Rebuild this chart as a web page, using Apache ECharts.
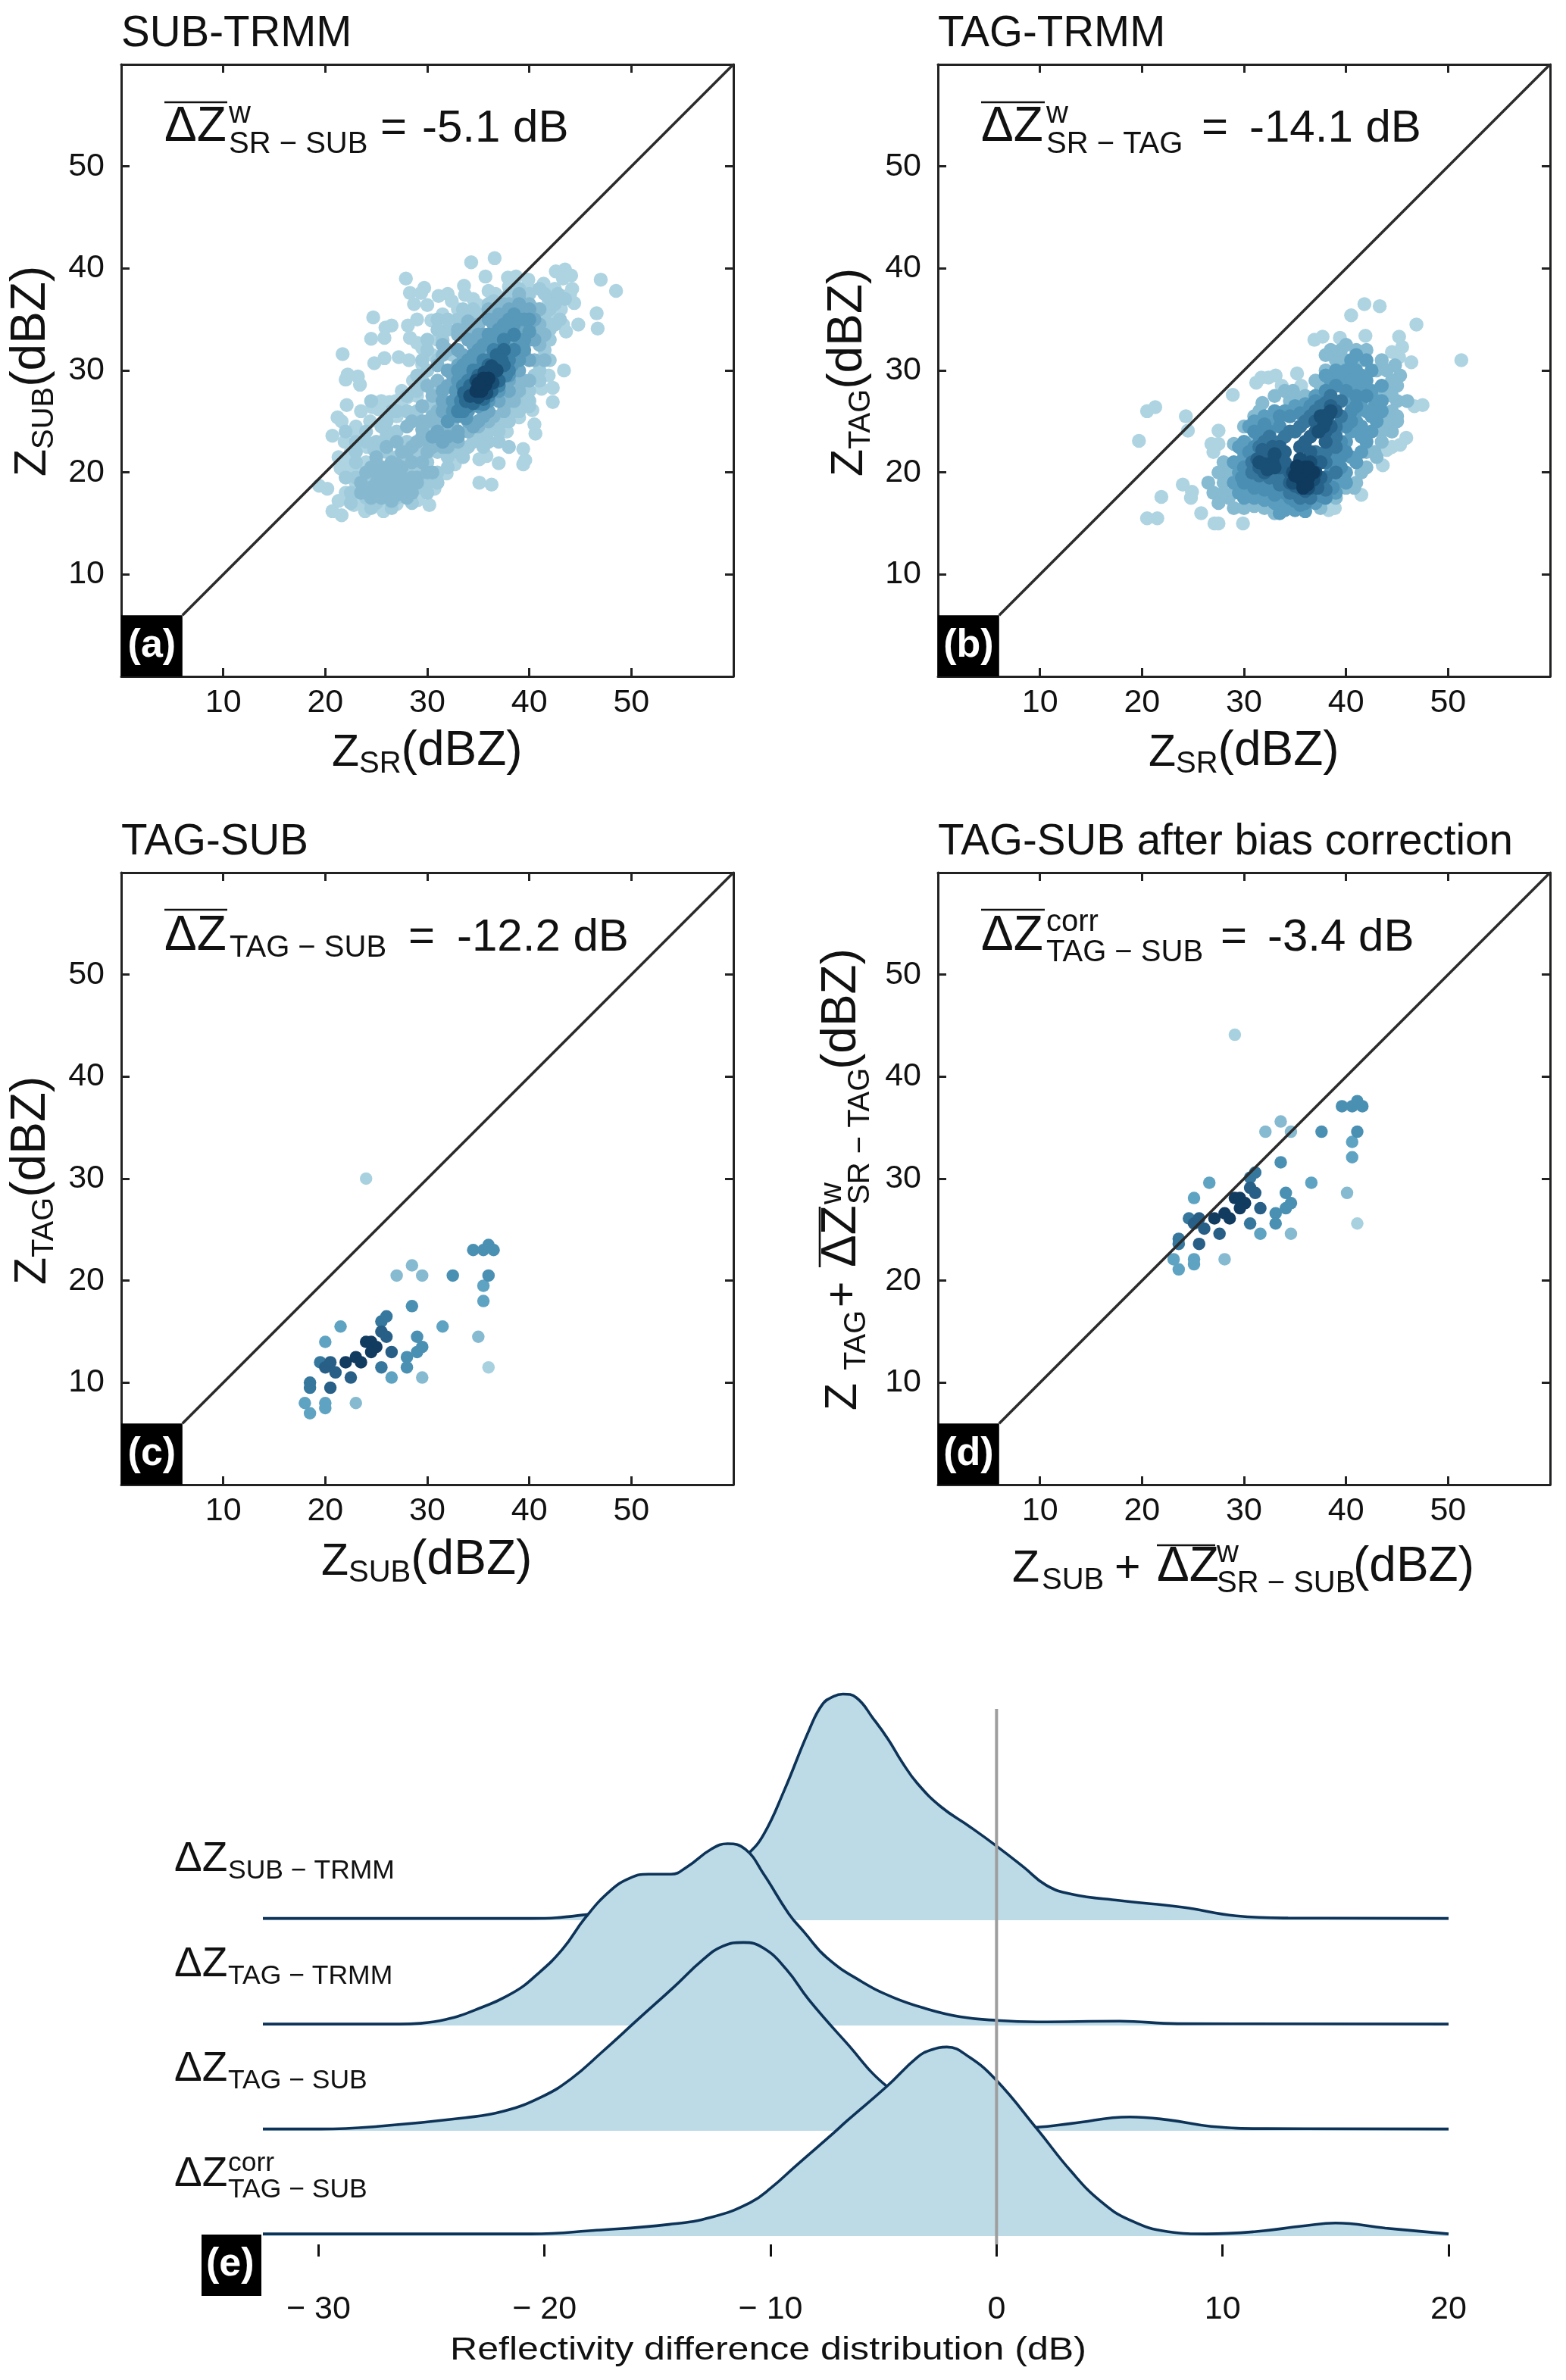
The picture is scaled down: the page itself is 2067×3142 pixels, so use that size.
<!DOCTYPE html>
<html><head><meta charset="utf-8">
<style>html,body{margin:0;padding:0;background:#fff}#c{width:2067px;height:3142px}</style>
<script src="https://cdn.jsdelivr.net/npm/echarts@6/dist/echarts.min.js"></script>
</head><body><div id="c"></div>
<script>
// ---------- data: tick labels ----------
const panelTicks = [10,20,30,40,50];
const ridgeTicks = [-30,-20,-10,0,10,20];
const titles = ['SUB-TRMM','TAG-TRMM','TAG-SUB','TAG-SUB after bias correction'];
const tags = ['(a)','(b)','(c)','(d)'];
// ---------- panel (a): points grouped by density level, light to dark ----------
const subA0 = [[27.9,39],[29.7,38.1],[28.3,37.6],[29.4,37.6],[28.7,36.5],[30,36.4],[34.3,40.6],[36.6,41],[35.7,39.2],[33.6,38.3],[33.7,37.4],[31.1,37.3],[32,37.5],[32.4,36.8],[35,36.4],[24.7,35.2],[25.9,34.2],[26.5,34.4],[24.5,33.1],[25.8,33.2],[28.1,34.4],[30.4,34.9],[28.3,33.2],[29,32.7],[29.5,32.2],[21.7,31.6],[24.8,30.7],[25.8,31.2],[27.2,31.3],[28.2,31],[29.5,30.6],[22.2,29.6],[22,29.1],[23.2,29.4],[23.4,28.6],[28.6,29],[22.1,26.6],[24.6,26.4],[25.2,26.2],[26.3,26.9],[26.9,27],[28.1,27.4],[21.2,25.4],[21.6,25],[23,24.5],[24.4,25],[20.7,23.6],[21.9,23],[23.4,23.5],[24.1,22.5],[21.3,21.5],[22.4,21.1],[21.5,20.4],[23,20.5],[22.4,19.9],[19.4,18.7],[20.2,18.4],[21.3,17.2],[20.7,16.2],[21.6,15.8],[23.2,17.3],[23.9,16.2],[25.7,16.2],[27,16.9],[29.1,17.3],[30.2,16.8],[30.7,18.4],[31.9,19.9],[32.7,20.8],[35.1,19],[36.3,18.8],[35.1,21.3],[35.8,21.6],[37,20.9],[39.4,20.8],[39.6,21.2],[39.4,22.3],[37.8,24],[38.3,25.6],[39,25.4],[40.6,23.8],[40.5,24.7],[40.3,26.1],[42.3,26.9],[42.3,28.3],[43.4,30],[41.9,29.5],[41.2,28.2],[43.6,33.8],[43.3,34.5],[44.8,34.5],[44.4,36.6],[47,38.9],[48.5,37.8],[46.6,35.6],[46.7,34.1],[44.2,38],[43.5,39.9],[42.6,39.7],[44.1,39.3],[43.3,39],[41.4,38.5],[39.9,38.9],[37.9,39.1],[38.7,39.2],[36.7,37.5],[43.1,37.3],[41.9,36.8],[43.1,36],[42.2,35.4],[41.9,34.1],[41.4,32.8],[22.8,24],[25.5,27],[27.5,28],[27,25.5],[27.5,26.5],[29,27.5],[26,17.5],[22,18],[23,19],[22.8,16.8],[31.5,35.5],[33,36],[34.5,37],[36,37.8],[38,38.2],[40,38],[42.5,38],[44,37.5],[29,35],[31,33],[30.5,31.5],[23.5,26],[24,21],[22.5,22]];
const subA1 = [[22,24],[23,22],[24,24],[25,23],[26,25],[27,24],[28,26],[29,26],[25,21],[26,22],[27,21.5],[28,23],[29,22],[30,24],[30,21],[31,22],[29,20],[23,19.5],[24,19.5],[22.5,18],[24,17.5],[25,17],[26,18],[27,17.5],[28,18],[29,18.5],[30,19],[31,20],[28,20],[30,33],[31,35],[31.5,33],[32,34],[33,35],[34,35.5],[35,35.5],[32.5,31.5],[31,31],[30,30],[30.5,28],[29,28],[30,26.5],[31,27],[41,36],[41.5,35],[42,34],[41.5,32],[41,31],[40.5,29.5],[40,28],[39,27],[38.5,26],[37.5,25],[36.5,24.5],[36,23],[35,23.5],[34,22.5],[33,22],[32,21.5],[41,38],[40,37.5],[38,37.5],[42,37],[43,35],[37,36.5],[24.8,22.2],[26,23.5],[25.5,19.5],[29.5,29],[33,33.5],[42.8,37.5],[43.5,37],[42,36],[37,23],[38,22.5],[35.5,22.5],[40,27],[41,29],[42,31],[23,21],[24,23],[26,24],[27,26],[28,27.5],[28,21.5],[31,23],[25.5,24.5],[26.5,26],[29,29.5],[29.5,31],[30,32],[31,34],[32,35],[33.5,36],[34.5,36],[36,36.5],[42,33],[42.5,34.5],[42.5,36.5],[41,30],[40,26.5],[39,26],[38,25],[37,24],[36,24],[34.5,23],[33.5,21.5],[32,20.5],[31,19],[30,18],[28.5,17],[26.5,16.5],[24.5,16.5],[22.5,17],[22,19.5],[23,23],[24.5,27],[41.5,37.5],[39,38],[36.5,36.8]];
const subA2 = [[23.5,19],[24.5,18.5],[25,20],[25.5,18],[26,19.5],[26.5,21],[27,19],[27.5,20.5],[28,19],[28.5,21],[29,19.5],[27,23],[28,24.5],[30,23],[29.5,25],[31,24.5],[32,22.5],[33,23],[32,24],[31,26],[31,29],[32,30],[32,32],[33,33.5],[34,34],[35,34.5],[36,35.5],[37,36],[38,36.5],[39,37],[40,36.5],[41,36],[40.5,34],[41,32.5],[40.5,31],[39.5,29],[39,28],[38,27],[37.5,26],[36,25],[35,24.5],[34,24],[25,19],[26.5,19],[27.5,18.5],[26,20.5],[30.5,25.5],[30.5,22.5],[41,34.5],[24,20],[25,21.5],[26,22.5],[27.5,22],[28.5,22.5],[29.5,21],[30,22],[30.5,20],[29.5,23.5],[28.5,25],[29.5,26.5],[30.5,27.5],[30,28.5],[31,30.5],[31.5,31.5],[31.5,32.5],[34,34.8],[33,34],[36,36],[37.5,36.5],[39,37.5],[40.5,36],[41.5,33.5],[41.5,31],[40,29],[39,29],[38.5,27],[37.5,27],[36.5,25.5],[35,25],[33,24],[31.5,22.5],[32.5,24.5],[24.5,20.5],[27,17.8],[25.5,17.5],[26.5,17.2],[28,17.5],[29,19],[24,18],[23.5,18],[30,20],[24.5,17.5],[25.5,19],[26.5,18],[27.5,19.5],[28.5,18],[28.5,19.5],[26.5,20],[25.5,20.5],[27,20.8],[28,22],[29,23],[30,25],[29.5,24.2],[31,25.3]];
const subA3 = [[31,24],[32,23.5],[33,24],[34,25],[35,25],[36,26],[37,27],[38,28],[39,30],[40,31],[40.5,33],[40.5,35],[40,36],[39,36.5],[38,36],[37,35.5],[36,35],[35,33.5],[34,33],[33,32],[32,30],[31.5,28],[31.5,26],[33,28],[34,30],[36,32],[38,33],[39,34],[37,30],[35,27],[30.5,23.5],[31.5,23],[33,23.5],[34.5,24.5],[35.5,25.5],[32,26],[33,26.5],[31.5,27],[32,28.5],[32.5,29.5],[33,30.5],[33.5,31.5],[34.5,32.5],[35.5,33.5],[36.5,34.5],[37.5,35],[38.5,35.5],[39.5,35.5],[40,34.5],[40,33],[39.5,31.5],[38.5,30],[38,29],[37,28],[36,27],[36.5,29],[35,28],[34,28],[37.5,31.5],[38.5,32.5],[36,31],[35,30.5],[34,29.5],[33,27.5]];
const subA4 = [[32,25],[33,25.5],[34,26],[35,26.5],[36,27],[37,28],[38,29.5],[39,31],[39.5,33],[39.5,35],[38.5,35.5],[37.5,34.5],[36.5,33.5],[35.5,32.5],[34.5,31.5],[33.5,30.5],[33,29],[32.5,27],[38,32],[37,31],[35,29],[32.5,26],[33.8,25.3],[34,29.5],[35,31],[36,32.5],[37,33],[38,34],[39,33],[38.8,31.5],[38.3,30.5],[38,35],[39,35],[40,35],[40,33.8],[39.5,32],[38.5,34.5],[37,34],[36,33.5],[35,32],[34,31],[33,30],[32.8,28]];
const subA5 = [[33,26],[34,26.5],[35,26.8],[36,27.5],[37,28.5],[38,30],[38.5,32],[38.5,33.5],[37.5,33],[36.5,32],[35.5,31],[34.5,30],[33.5,28.5],[37,30],[33.3,27],[33.5,26],[35.5,26.7],[37.7,29.5],[38,31],[37.2,32],[36,31],[35,30],[34,29]];
const subA6 = [[33.8,27],[34.5,26.8],[35.5,27.2],[36.3,28],[37,29],[37.5,30.5],[37.5,32],[36.8,31.5],[36,30.5],[35,29.5],[34.2,28.5],[33.6,27.8],[37.3,31]];
const subA7 = [[34.2,27.5],[35,27.4],[35.8,27.8],[36.4,28.8],[36.8,30],[36.3,30.4],[35.6,29.8],[34.8,29]];
const subA8 = [[34.8,28],[35.3,28],[35.7,28.6],[36,29.2],[35.5,29.2],[35,28.7]];
// ---------- panel (b) ----------
const tagB0 = [[19.7,23.1],[20.5,26],[21.3,26.4],[24.3,25.5],[24.5,24.1],[28.9,27.6],[21.9,17.6],[20.5,15.5],[21.5,15.5],[24,18.8],[24.9,18.1],[24.8,17.5],[25.8,16],[27.1,15],[27.5,15],[29.9,15],[31.2,28.8],[31.7,29.3],[32.4,29.3],[33.1,29.5],[33.7,28.5],[35.2,29.7],[35.6,28.5],[36.9,33],[37.7,33.3],[39.4,33.2],[40.5,35.4],[41.8,36.5],[43.3,36.3],[46.9,34.5],[45.2,33.3],[41.9,33.4],[45.5,32.3],[44.5,31.8],[45.2,31.3],[46.4,30.8],[51.3,31],[46.7,26.5],[47.5,26.6],[45.9,23.4],[45.3,22.7],[44.5,22.5],[44,22.2],[43.6,20.7],[41.5,17.8],[38.9,16.5],[38.3,16.3],[27.5,24.1],[26.8,22.8],[27.5,22.8],[27,22]];
const tagB1 = [[26.5,19],[27,18],[27.5,17],[28,21],[28.5,20],[28.5,17.5],[29,16.5],[30,16.5],[31,16.7],[31.5,24.5],[31,25.5],[31.5,26],[31.8,26.8],[32,24],[34.5,27],[35,27],[35.5,26.5],[37.5,28.5],[38,30],[39,31],[39.5,32],[38.5,32],[40,31],[41,32],[42,32],[41.5,31],[43,28],[44,28],[45,28.5],[45.3,29.5],[45,27],[44.5,26],[45,25.5],[45,25],[44.5,24],[43.5,24],[42.8,22],[43,21.5],[42,20.5],[41.5,20],[41,19],[40,18.5],[44.5,29],[44.8,30.5],[39.5,30.5],[29,22.8],[30.5,22.8],[28,19],[27.5,20],[28,18],[30,24.5],[33,27.5],[34,28],[34.8,28],[36,27.5],[37,29],[38,31.5],[40,32.5],[43.5,31],[43,30],[44,30],[44.5,27.5],[46,27],[44,25],[43.5,23],[42,22],[40.8,18.5],[39,17.5],[37.5,16.5],[33,16],[32,16.5],[29,18]];
const tagB2 = [[41,30],[42,29],[42.5,28],[43,27],[43.5,26],[43,25],[42.5,24],[41.5,23.5],[41,25],[42,26],[41.5,27],[42,31],[41,31.5],[40,30],[39.5,29.5],[39,30],[38.5,29],[39,24],[40,23],[40,20],[39,19],[38,18],[37,17],[36,16.2],[35,16.3],[34,17],[33.5,16],[33,17],[32,18],[31,18],[30,17.5],[29.5,18],[29,19],[29,21],[29.5,22.5],[30,23],[30.5,24.5],[32,25.5],[33,24.8],[34,26],[35,26.5],[36,26.3],[43.5,28.5],[42.5,30],[41,28.5],[41.5,24.5],[40.5,21.5],[30,18.5],[31,17.5],[32,17.3],[34,16.3],[36,16.8],[37.5,17.5],[39,18],[40,19],[41,21],[41.5,22],[42,23],[40.5,24],[43,26],[43.5,27],[42.8,26.5],[41,26],[40.5,29],[39.5,28.5],[38,29.5],[37,27.5],[36,26.7],[33,26],[31,25],[30,22],[29.5,20],[30,21.5],[40.5,31],[42,28],[41.5,29.5],[42.5,25.5],[40.5,27]];
const tagB3 = [[30,19],[31,19.5],[30,20.5],[30.5,22],[31.5,23.5],[32.5,24],[33.5,24.5],[34.5,25.5],[36,25],[37,27],[38,28],[39,28.5],[40,28],[41,27.5],[40.5,26],[40,24.5],[39.5,23],[39,21],[38.5,20],[38,17.5],[37,18],[36,17],[35,17.2],[34,18],[33,18.5],[32,19],[41,26.5],[42,27.5],[31,24],[31,22.5],[32,24.7],[33.5,25.5],[35.5,25.8],[36.5,26.5],[38,27],[39,26.8],[40.5,25],[40,22],[39.5,20.5],[38.7,18.5],[37.5,17.7],[35.5,16.8],[34.5,17.5],[33,17.8],[32,18.3],[31,18.5],[30.5,20],[29.8,19.5],[39.5,21.5],[38.5,22],[38.2,25]];
const tagB4 = [[31,20],[30.8,21],[31.5,22.5],[32.5,23.5],[33.5,23],[34.5,24],[35.5,24.5],[36.5,25.5],[37.5,26.5],[38.5,27.5],[39.5,27],[39.5,25.5],[39,23.5],[38,21],[38,19.5],[37,18.5],[36,17.8],[35,18],[34,19],[33,19.5],[32,20],[32,22],[32,23],[33,22.5],[34,23.5],[35,24],[36,25],[37,26],[38,26.8],[37,22],[38,22],[39,22.5],[39,24.5],[39,20],[38,18.3],[36.5,17.5],[35.5,17.5],[34.5,18],[33.5,18.8],[32.5,19.5],[31.5,19.7],[30.8,20],[34,20],[33,20.5],[35,20.5],[37,20.5]];
const tagB5 = [[31.5,20.5],[32,21.5],[32.8,22.5],[33.5,21.5],[34,22],[35.5,22.5],[36.5,23.5],[37.5,25],[38.5,26.5],[39,26],[38.5,24.5],[38,23],[37.5,21],[37.5,19.5],[36.5,18.5],[35.5,18.5],[34.5,19],[33.5,20.5],[37,24],[36.5,22],[32,20],[33,20.8],[34,21],[34.5,20],[35,18.7],[37,19.5],[37,21],[36,23],[37,25],[38,24],[33.5,22.5],[31.3,21.3],[31.8,22.2],[36,18.2],[37.2,18.5]];
const tagB6 = [[32,20.8],[32.8,21],[33,21.8],[37.8,24.5],[38.3,25.7],[37.8,25.5],[35,19.5],[36.8,19.3],[36,18.8],[35.3,20.5],[36.5,21],[35.5,21.3],[31.5,21],[32.3,20.3],[33,20.5],[34.8,19],[36.3,18.5],[37,20],[34.8,20],[38,25],[38.5,26],[37.3,24],[37.5,25.5]];
const tagB7 = [[35.5,19.5],[36.3,19.5],[36,20.5],[35.8,19],[35,19.7],[36.8,20],[36.3,20.5],[35.8,18.5],[35.2,20.6],[36.2,18.8]];
// ---------- panel (c) ----------
const tagSubC0 = [[24,30],[36,11.5]];
const tagSubC1 = [[35,14.5],[29.5,10.5],[27,20.5],[29.5,20.5],[28.5,21.5],[23,8]];
const tagSubC2 = [[21.5,15.5],[20,14],[18,8],[20,8],[20,7.5],[18.5,7],[31.5,15.5],[35.5,18],[35.5,19.5],[26.5,10.5]];
const tagSubC3 = [[34.5,23],[35.5,23],[36,23.5],[36.5,23],[36,20.5],[32.5,20.5],[28.5,17.5],[28,12.5],[28,11.5],[29,13],[29.5,13.5],[29,14.5]];
const tagSubC4 = [[19.5,12],[25.5,11.5],[18.5,10],[18.5,9.5],[25.5,16],[26,16.5]];
const tagSubC5 = [[20,11.5],[20.5,12],[22.5,10.5],[21,11],[20.5,9.5],[26.5,13],[25.5,15],[26,14.5]];
const tagSubC6 = [[22,12],[23,12.5],[23.5,12],[24,14],[24.5,14],[25,13.5],[24.5,13]];
// ---------- panel (d) ----------
const corrD0 = [[29.1,44.1],[41.1,25.6]];
const corrD1 = [[40.1,28.6],[34.6,24.6],[32.1,34.6],[34.6,34.6],[33.6,35.6],[28.1,22.1]];
const corrD2 = [[26.6,29.6],[25.1,28.1],[23.1,22.1],[25.1,22.1],[25.1,21.6],[23.6,21.1],[36.6,29.6],[40.6,32.1],[40.6,33.6],[31.6,24.6]];
const corrD3 = [[39.6,37.1],[40.6,37.1],[41.1,37.6],[41.6,37.1],[41.1,34.6],[37.6,34.6],[33.6,31.6],[33.1,26.6],[33.1,25.6],[34.1,27.1],[34.6,27.6],[34.1,28.6]];
const corrD4 = [[24.6,26.1],[30.6,25.6],[23.6,24.1],[23.6,23.6],[30.6,30.1],[31.1,30.6]];
const corrD5 = [[25.1,25.6],[25.6,26.1],[27.6,24.6],[26.1,25.1],[25.6,23.6],[31.6,27.1],[30.6,29.1],[31.1,28.6]];
const corrD6 = [[27.1,26.1],[28.1,26.6],[28.6,26.1],[29.1,28.1],[29.6,28.1],[30.1,27.6],[29.6,27.1]];
// ---------- panel (e): density curves, [dB, height] ----------
const ridgeSubTrmm = [[-32.46,2.5],[-25,2.5],[-20.6,2.5],[-18.2,7.6],[-16,19],[-14,32],[-12.5,51],[-11,91],[-10.3,118],[-9.4,178],[-8.3,261],[-7.7,297],[-7.2,308],[-6.8,311],[-6.2,306],[-5.45,277],[-4.8,249],[-4.17,217],[-3.5,188],[-2.46,156],[-1.2,129],[0,102],[1.2,73],[2.2,48],[3.3,36],[5.45,27],[8.2,18],[10.6,6],[12.9,3],[20,2.5]];
const ridgeTagTrmm = [[-32.46,2],[-26.4,2],[-25.5,3],[-24.4,8],[-23.1,21],[-21.4,45],[-20.3,71],[-19.2,105],[-18.2,148],[-17.1,185],[-16.2,203],[-15.4,208],[-14.4,208],[-13.7,218],[-12.6,243],[-11.9,250],[-11.1,242],[-10.3,208],[-9.2,154],[-8.5,128],[-7.5,93],[-6,61],[-4.6,39],[-3.1,23],[-1.6,12],[0,7],[1.8,5],[5.45,6],[8,2.5],[20,2]];
const ridgeTagSub = [[-32.46,2.5],[-29.9,2.5],[-27.4,6],[-23.5,18],[-21.8,27],[-20.1,47],[-18.8,72],[-17.5,107],[-15.8,155],[-14.3,197],[-13,235],[-12.1,254],[-11.2,259],[-10.3,251],[-9.3,222],[-8.3,180],[-6.7,123],[-4.85,61],[-3,27],[-1,8],[0,4],[1.8,5],[3.3,10],[5.9,19],[7.6,15],[9.5,6],[11.9,3],[20,2.5]];
const ridgeCorr = [[-32.46,3],[-20.6,3],[-17.7,8],[-14.5,16],[-12.6,26],[-10.9,46],[-9.95,67],[-8.9,96],[-7.2,142],[-6.6,159],[-4.85,206],[-3.5,246],[-2.9,256],[-2.2,260],[-1.2,246],[0,214],[1.8,147],[3.3,89],[4.6,48],[5.9,22],[7.6,6],[9.3,3],[11.4,6],[13.6,14],[15,18],[17.2,11],[20,3]];
const zeroLine = [[0,0],[0,1]];
const diagonal = [[6,6],[60,60]];
</script>
<script>
const FF = '"Liberation Sans", Arial, sans-serif';
const P = ['#aed4e2','#9ecadb','#86b9d0','#6fa8c4','#5899ba','#3f83a8','#2a6a90','#1a4f75','#0f3a5e'];
const PC = ['#a8d1e0','#86bad1','#5fa3c3','#4a90b3','#36779d','#275f87','#123b60'];
const INK = '#111';
const mctx = document.createElement('canvas').getContext('2d');
const widthOf = (t,s)=>{mctx.font = s+'px "Liberation Sans"';return mctx.measureText(t).width;};
function textEl(x,base,t,s,o){o=o||{};
  return {type:'text',x:x,y:base-0.3465*s,z:50,silent:true,
    style:{text:t,fontSize:s,fontFamily:FF,fill:o.fill||INK,fontWeight:o.w||'normal',textAlign:'left',textVerticalAlign:'middle',verticalAlign:'middle'}};
}
function lineEl(x1,y1,x2,y2){return {type:'line',z:50,silent:true,shape:{x1,y1,x2,y2},style:{stroke:INK,lineWidth:2.6}};}
// a run of text parts on one baseline, optionally rotated to read upward
function run(x,y,rot,parts,scaleX){
  let c=0;const ch=[];
  parts.forEach(p=>{
    const at = p.at!==undefined?p.at:c;
    ch.push(textEl(at,p.dy||0,p.t,p.s));
    if(p.over) ch.push(lineEl(p.over[0],p.over[2],p.over[1],p.over[2]));
    c = at+widthOf(p.t,p.s);
  });
  return {type:'group',x,y,rotation:rot?Math.PI/2:0,scaleX:scaleX||1,children:ch};
}
const UP=true;
const BIG=59, SUB=40, STAT=60, DZ=64, DBZ=64;
const graphics = [
  // axis names
  run(438,1015,false,[{t:'Z',s:BIG},{t:'SR',s:SUB,dy:8},{t:'(dBZ)',s:DBZ}]),
  run(1516,1015,false,[{t:'Z',s:BIG},{t:'SR',s:SUB,dy:8},{t:'(dBZ)',s:DBZ}]),
  run(424,2083,false,[{t:'Z',s:BIG},{t:'SUB',s:SUB,dy:8},{t:'(dBZ)',s:DBZ}]),
  run(64,629,UP,[{t:'Z',s:BIG},{t:'SUB',s:SUB,dy:9},{t:'(dBZ)',s:DBZ}]),
  run(1142,629,UP,[{t:'Z',s:BIG},{t:'TAG',s:SUB,dy:9},{t:'(dBZ)',s:DBZ}]),
  run(64,1696,UP,[{t:'Z',s:BIG},{t:'TAG',s:SUB,dy:9},{t:'(dBZ)',s:DBZ}]),
  run(1134,1862,UP,[{t:'Z',s:BIG},{t:'TAG',s:SUB,dy:11,at:53},{t:'+',s:BIG,at:136},
    {t:'ΔZ',s:DZ,at:189,over:[189,269,-52]},{t:'w',s:SUB,at:272,dy:-21},{t:'SR − TAG',s:SUB,at:272,dy:16},{t:'(dBZ)',s:DBZ,at:450}]),
  run(1336,2092,false,[{t:'Z',s:BIG},{t:'SUB',s:SUB,dy:9,at:39},{t:'+',s:BIG,at:135},
    {t:'ΔZ',s:DZ,at:191,over:[191,268,-52]},{t:'w',s:SUB,at:270,dy:-27},{t:'SR − SUB',s:SUB,at:270,dy:13},{t:'(dBZ)',s:DBZ,at:450}]),
  // statistics
  run(217,191,false,[{t:'ΔZ',s:DZ,over:[0,83,-56]},{t:'w',s:SUB,at:85,dy:-26},{t:'SR − SUB',s:SUB,at:85,dy:14},{t:'=',s:STAT,at:285},{t:'-5.1 dB',s:STAT,at:340}]),
  run(1295,191,false,[{t:'ΔZ',s:DZ,over:[0,84,-56]},{t:'w',s:SUB,at:86,dy:-26},{t:'SR − TAG',s:SUB,at:86,dy:14},{t:'=',s:STAT,at:291},{t:'-14.1 dB',s:STAT,at:354}]),
  run(217,1259,false,[{t:'ΔZ',s:DZ,over:[0,83,-58]},{t:'TAG − SUB',s:SUB,at:86,dy:7},{t:'=',s:STAT,at:322},{t:'-12.2 dB',s:STAT,at:386}]),
  run(1295,1259,false,[{t:'ΔZ',s:DZ,over:[0,84,-58]},{t:'corr',s:SUB,at:86,dy:-27},{t:'TAG − SUB',s:SUB,at:86,dy:13},{t:'=',s:STAT,at:316},{t:'-3.4 dB',s:STAT,at:378}]),
  // ridge labels
  run(230,2474,false,[{t:'ΔZ',s:55},{t:'SUB − TRMM',s:35.5,at:71,dy:9}]),
  run(230,2613,false,[{t:'ΔZ',s:55},{t:'TAG − TRMM',s:35.5,at:71,dy:9}]),
  run(230,2751,false,[{t:'ΔZ',s:55},{t:'TAG − SUB',s:35.5,at:71,dy:9}]),
  run(230,2890,false,[{t:'ΔZ',s:55},{t:'corr',s:35.5,at:71,dy:-21},{t:'TAG − SUB',s:35.5,at:71,dy:14}]),
  // ridge axis name
  run(594,3118,false,[{t:'Reflectivity difference distribution (dB)',s:43}],1.165),
  // tag for (e)
  {type:'rect',z:40,silent:true,shape:{x:266,y:2950,width:79,height:81},style:{fill:'#000'}},
  textEl(272,3008,'(e)',52,{fill:'#fff',w:'bold'})
];
const boxes = [[160,85],[1238,85],[160,1152],[1238,1152]];
const SIZE = 808;
const bandsA=[subA0,subA1,subA2,subA3,subA4,subA5,subA6,subA7,subA8];
const bandsB=[tagB0,tagB1,tagB2,tagB3,tagB4,tagB5,tagB6,tagB7];
const bandsC=[tagSubC0,tagSubC1,tagSubC2,tagSubC3,tagSubC4,tagSubC5,tagSubC6];
const bandsD=[corrD0,corrD1,corrD2,corrD3,corrD4,corrD5,corrD6];
const panelBands=[bandsA,bandsB,bandsC,bandsD];
const colB=['#aed4e2','#86bbd2','#5b9dbe','#4a8fb3','#37779e','#27628a','#1a4f75','#0f3a5e'];
const panelColors=[P,colB,PC,PC];
const grid=[],xAxis=[],yAxis=[],series=[],title=[];
const axisLine={show:true,onZero:false,lineStyle:{color:'#222',width:3}};
boxes.forEach((b,i)=>{
  grid.push({left:b[0],top:b[1],width:SIZE,height:SIZE,containLabel:false});
  const tick={show:true,inside:true,length:11,customValues:panelTicks,lineStyle:{color:'#222',width:3}};
  const labX={show:true,customValues:panelTicks,fontFamily:FF,fontSize:43,color:INK,margin:14};
  const labY={show:true,customValues:panelTicks,fontFamily:FF,fontSize:43,color:INK,margin:22,padding:[16,0,0,0]};
  xAxis.push({type:'value',gridIndex:i,min:0,max:60,position:'bottom',axisLine,axisTick:tick,axisLabel:labX,splitLine:{show:false}});
  xAxis.push({type:'value',gridIndex:i,min:0,max:60,position:'top',axisLine,axisTick:tick,axisLabel:{show:false},splitLine:{show:false}});
  yAxis.push({type:'value',gridIndex:i,min:0,max:60,position:'left',axisLine,axisTick:tick,axisLabel:labY,splitLine:{show:false}});
  yAxis.push({type:'value',gridIndex:i,min:0,max:60,position:'right',axisLine,axisTick:tick,axisLabel:{show:false},splitLine:{show:false}});
  title.push({text:titles[i],left:b[0],top:b[1]-68,textStyle:{fontFamily:FF,fontSize:56.5,fontWeight:'normal',color:INK},padding:0});
  const xi=i*2,yi=i*2;
  panelBands[i].forEach((band,j)=>{
    series.push({type:'scatter',xAxisIndex:xi,yAxisIndex:yi,data:band,symbolSize:i<2?18.5:16.5,silent:true,z:3+j*0.01,
      itemStyle:{color:panelColors[i][j],opacity:1}});
  });
  series.push({type:'line',xAxisIndex:xi,yAxisIndex:yi,data:diagonal,symbol:'none',silent:true,z:5,lineStyle:{color:'#2b2b2b',width:3.6}});
  series.push({type:'scatter',xAxisIndex:xi,yAxisIndex:yi,data:[],silent:true,z:6,
    markArea:{silent:true,itemStyle:{color:'#000',opacity:1},
      label:{show:true,position:'inside',color:'#fff',fontFamily:FF,fontSize:52,fontWeight:'bold'},
      data:[[{coord:[0,0],name:tags[i]},{coord:[6,6]}]]}});
});
// ridges: each in its own grid whose bottom sits on that ridge's baseline
const RL=347,RW=1565,XMIN=-32.46,XMAX=20;
[[ridgeSubTrmm,2535],[ridgeTagTrmm,2674],[ridgeTagSub,2813],[ridgeCorr,2952]].forEach((r,k)=>{
  const g=grid.length;
  grid.push({left:RL,width:RW,top:r[1]-300,height:300});
  xAxis.push({type:'value',gridIndex:g,min:XMIN,max:XMAX,show:false});
  yAxis.push({type:'value',gridIndex:g,min:0,max:312.5,show:false});
  series.push({type:'line',xAxisIndex:xAxis.length-1,yAxisIndex:yAxis.length-1,data:r[0],symbol:'none',silent:true,
    smooth:0.45,clip:false,z:10+k,
    lineStyle:{color:'#0d3358',width:3.6},areaStyle:{color:'#bddbe7',opacity:1,origin:'start'}});
});
const gz=grid.length;
grid.push({left:RL,width:RW,top:2256,height:707});
xAxis.push({type:'value',gridIndex:gz,min:XMIN,max:XMAX,position:'bottom',offset:33,
  axisLine:{show:false},splitLine:{show:false},
  axisTick:{show:true,length:16,customValues:ridgeTicks,lineStyle:{color:'#111',width:3}},
  axisLabel:{show:true,customValues:ridgeTicks,fontFamily:FF,fontSize:43,color:INK,margin:32,
    formatter:v=>v<0?'− '+Math.abs(v):String(v)}});
yAxis.push({type:'value',gridIndex:gz,min:0,max:1,show:false});
series.push({type:'line',xAxisIndex:xAxis.length-1,yAxisIndex:yAxis.length-1,data:zeroLine,symbol:'none',silent:true,z:20,
  lineStyle:{color:'#9e9e9e',width:4}});
const chart=echarts.init(document.getElementById('c'),null,{renderer:'canvas',width:2067,height:3142});
chart.setOption({animation:false,backgroundColor:'#fff',title,grid,xAxis,yAxis,series,graphic:{elements:graphics}});
</script>
</body></html>
